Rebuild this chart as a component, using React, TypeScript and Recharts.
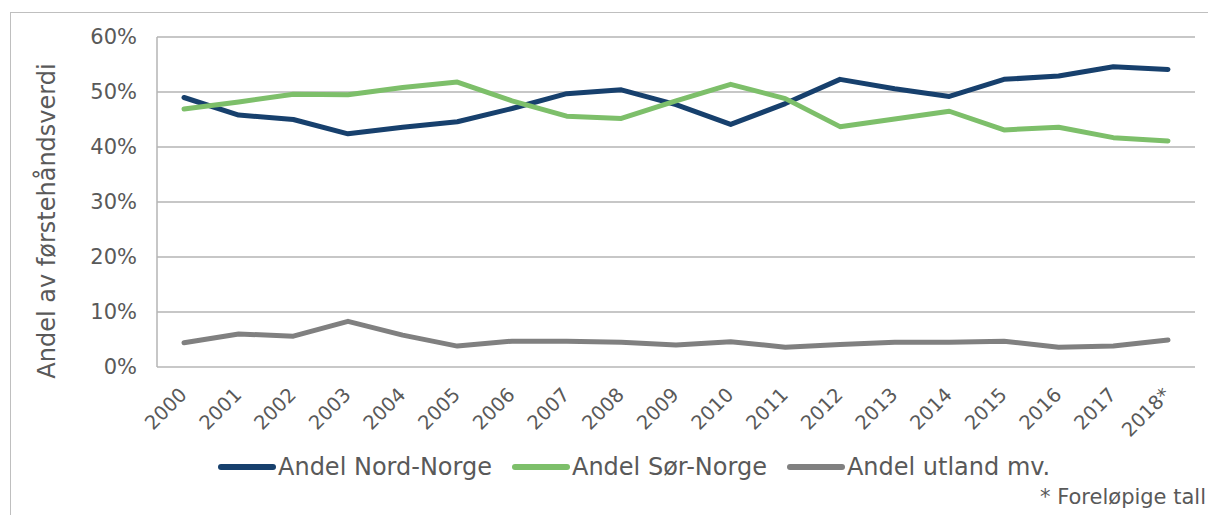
import { LineChart, Line, XAxis, YAxis, CartesianGrid, Legend, Label } from 'recharts';

const YEARS = ['2000', '2001', '2002', '2003', '2004', '2005', '2006', '2007', '2008', '2009',
  '2010', '2011', '2012', '2013', '2014', '2015', '2016', '2017', '2018*'];

// andel av førstehåndsverdi, prosent
const NORD = [49.0, 45.8, 45.0, 42.4, 43.6, 44.6, 47.0, 49.7, 50.4, 47.7, 44.1, 47.9, 52.3, 50.6, 49.2, 52.3, 52.9, 54.6, 54.1];
const SOR = [46.9, 48.2, 49.6, 49.5, 50.8, 51.8, 48.4, 45.6, 45.2, 48.4, 51.4, 48.8, 43.7, 45.1, 46.5, 43.1, 43.6, 41.7, 41.1];
const UTLAND = [4.4, 6.0, 5.6, 8.3, 5.8, 3.8, 4.7, 4.7, 4.5, 4.0, 4.6, 3.6, 4.1, 4.5, 4.5, 4.7, 3.6, 3.8, 4.9];

const Y_TICKS = [0, 10, 20, 30, 40, 50, 60];

const COLORS = {
  nord: '#17406d',
  sor: '#7dbf6a',
  utland: '#808080',
  text: '#595959',
  grid: '#b5b5b5',
};

const FONT = '"DejaVu Sans", Verdana, sans-serif';

const data = YEARS.map((year, i) => ({
  year,
  nord: NORD[i],
  sor: SOR[i],
  utland: UTLAND[i],
}));

function YearTick({ x, y, payload }: any) {
  return (
    <g transform={`translate(${x + 4},${y + 21})`}>
      <text transform="rotate(-45)" textAnchor="end"
        fill={COLORS.text} fontSize={19.5} fontFamily={FONT}>
        {payload.value}
      </text>
    </g>
  );
}

function LegendRow({ payload }: any) {
  return (
    <div style={{ display: 'flex', alignItems: 'center', fontFamily: FONT, fontSize: 24, color: COLORS.text }}>
      {(payload || []).map((item: any) => (
        <div key={item.value} style={{ display: 'flex', alignItems: 'center', marginRight: 20 }}>
          <span style={{ display: 'inline-block', width: 58, height: 6, borderRadius: 3, background: item.color, marginRight: 2 }} />
          <span>{item.value}</span>
        </div>
      ))}
    </div>
  );
}

function AxisTitle({ viewBox }: any) {
  const cx = viewBox.x + 47;
  const cy = viewBox.y + viewBox.height / 2 + 19;
  return (
    <text x={cx} y={cy} transform={`rotate(-90, ${cx}, ${cy})`} textAnchor="middle" dominantBaseline="central"
      fill={COLORS.text} fontSize={24} fontFamily={FONT}>
      Andel av førstehåndsverdi
    </text>
  );
}

export default function App() {
  return (
    <div style={{ position: 'absolute', left: 0, top: 0, width: 1208, height: 515, overflow: 'hidden', background: '#fff' }}>
      <div style={{ position: 'absolute', left: 10, top: 12, width: 1400, height: 700, border: '1px solid #bfbfbf' }} />
      <LineChart width={1208} height={515} data={data} margin={{ top: 37, right: 13, bottom: 0, left: 0 }}>
        <CartesianGrid vertical={false} stroke={COLORS.grid} strokeWidth={1.5} />
        <XAxis dataKey="year" height={148} padding={{ left: 27, right: 27 }} interval={0}
          axisLine={{ stroke: '#c8c8c8', strokeWidth: 2 }} tickLine={false} tick={<YearTick />} />
        <YAxis width={157} domain={[0, 60]} ticks={Y_TICKS} tickFormatter={(v) => `${v}%`}
          axisLine={{ stroke: COLORS.grid, strokeWidth: 1.5 }} tickLine={false} tickSize={0} tickMargin={20}
          tick={{ fill: COLORS.text, fontSize: 21, fontFamily: FONT }}>
          <Label content={<AxisTitle />} />
        </YAxis>
        <YAxis yAxisId="frame" orientation="right" width={0} domain={[0, 60]} tick={false} tickLine={false}
          axisLine={{ stroke: COLORS.grid, strokeWidth: 1.5 }} />
        <Legend layout="horizontal" verticalAlign="middle" align="center" content={<LegendRow />}
          wrapperStyle={{ top: 453, left: 218, width: 1000 }} />
        <Line name="Andel Nord-Norge" dataKey="nord" stroke={COLORS.nord} strokeWidth={5}
          dot={false} strokeLinecap="round" strokeLinejoin="round" isAnimationActive={false} />
        <Line name="Andel Sør-Norge" dataKey="sor" stroke={COLORS.sor} strokeWidth={5}
          dot={false} strokeLinecap="round" strokeLinejoin="round" isAnimationActive={false} />
        <Line name="Andel utland mv." dataKey="utland" stroke={COLORS.utland} strokeWidth={5}
          dot={false} strokeLinecap="round" strokeLinejoin="round" isAnimationActive={false} />
      </LineChart>
      <div style={{ position: 'absolute', left: 1040, top: 485, whiteSpace: 'nowrap', fontFamily: FONT, fontSize: 21, color: COLORS.text }}>
        * Foreløpige tall
      </div>
    </div>
  );
}
